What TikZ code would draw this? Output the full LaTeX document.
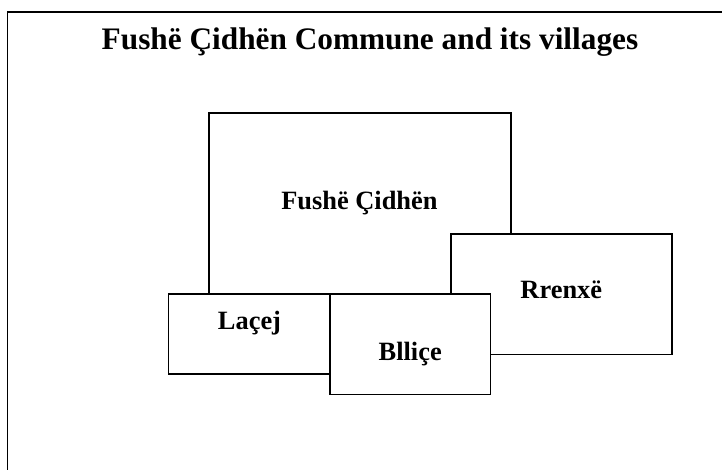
\documentclass[tikz,border=0pt]{standalone}
\usepackage{fontspec}
\setmainfont{Liberation Serif}
\tikzset{
  villagebox/.style={rectangle,draw,fill=white,inner sep=0pt,line width=1.5pt},
  villagename/.style={anchor=base,inner sep=0pt,font=\fontsize{26.4}{30}\selectfont\bfseries}
}
\begin{document}
\begin{tikzpicture}[x=1pt,y=-1pt]
      \useasboundingbox (0,0) rectangle (722,470);
      \coordinate (framecorner) at (7.5,12);
      \draw[line width=1.7pt] (7.5,470) -- (framecorner) -- (722,12);

      \node[anchor=base,inner sep=0pt,font=\fontsize{31.3}{36}\selectfont\bfseries] (title) at (370,50)
        {Fushë Çidhën Commune and its villages};

      % boxes, back to front
      \begin{scope}[every node/.style={villagebox}]
        \node[minimum width=302pt,minimum height=181pt]   (fushe)  at (360,203.5) {};
        \node[minimum width=161.7pt,minimum height=80pt]  (lacej)  at (249.2,334) {};
        \node[minimum width=221.3pt,minimum height=120.3pt] (rrenxe) at (561.4,294.2) {};
        \node[minimum width=160.3pt,minimum height=100.3pt] (bllice) at (410.2,344.2) {};
      \end{scope}

      \begin{scope}[every node/.style={villagename}]
        \node (fushename)  at (359.4,210) {Fushë Çidhën};
        \node (lacejname)  at (249.5,329.3) {Laçej};
        \node (rrenxename) at (561.3,298.7) {Rrenxë};
        \node (blliname)   at (410.2,360) {Blliçe};
      \end{scope}

    \end{tikzpicture}
\end{document}
